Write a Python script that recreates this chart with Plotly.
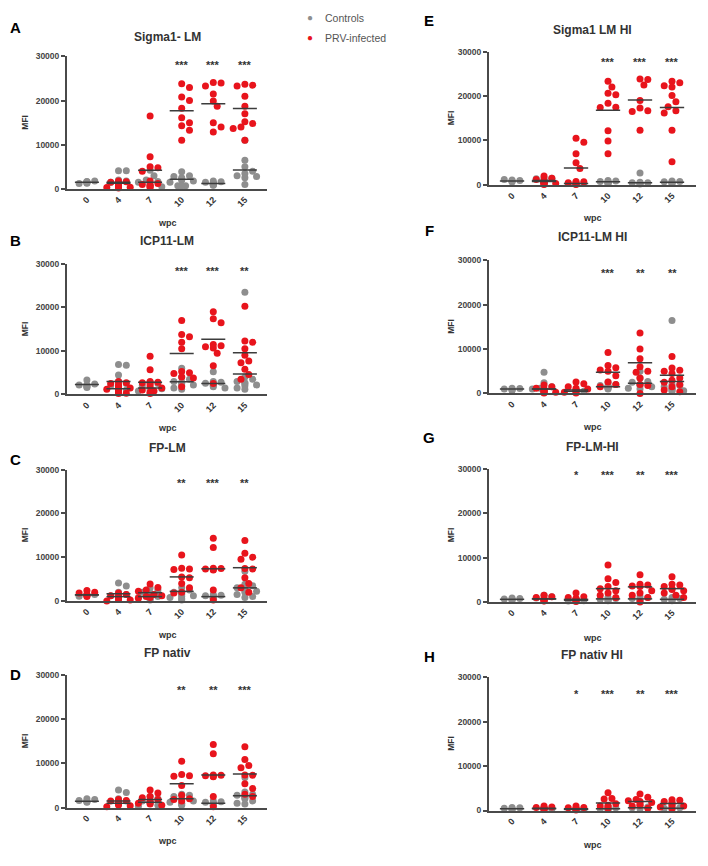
import plotly.graph_objects as go

weeks = ["0", "4", "7", "10", "12", "15"]
groups = ["Controls", "PRV-infected"]

# ---- data: MFI values per week (0,4,7,10,12,15) ----
A_ctrl = [[1500, 1800, 1200, 1600, 1400, 1700, 1300],
          [4100, 4100, 2000, 1800, 1500, 1200, 1000, 800],
          [4200, 3000, 2000, 1700, 1500, 1000, 800, 500],
          [3900, 3000, 2800, 2500, 2200, 2000, 1800, 1500, 700, 700, 700],
          [1800, 1600, 1500, 1400, 1300, 1200, 1100, 1000, 900, 800],
          [11000, 6500, 5000, 4000, 3500, 3000, 2800, 2500, 1000]]
A_inf = [[],
         [1800, 1600, 1500, 1300, 1200, 1000, 800, 600, 500, 400, 300, 200],
         [16500, 7300, 5000, 4800, 4000, 1800, 1200, 1000, 800, 500, 300],
         [23800, 23000, 20800, 20000, 18300, 16100, 15000, 14300, 13300, 11000],
         [24100, 24000, 23300, 21500, 19900, 18700, 15000, 14000, 12900],
         [23700, 23500, 23300, 21000, 18700, 17000, 15200, 14800, 14000, 13700, 11000]]
A_ctrl_mean = [1500, 1500, 1500, 2200, 1200, 4300]
A_inf_mean = [None, 1300, 4200, 17700, 19300, 18200]
A_stars = ["", "", "", "***", "***", "***"]

B_ctrl = [[3300, 2400, 2200, 2200, 2000, 1800, 1600],
          [6900, 6700, 4500, 3000, 2500, 2000, 1500, 1000],
          [2800, 2500, 2000, 1500, 1300, 1000, 800],
          [6000, 4000, 3500, 3000, 2800, 2500, 2200, 2000, 1500, 1200],
          [5200, 3000, 2800, 2600, 2500, 2300, 2200, 2000, 1800, 1500],
          [23500, 4000, 3500, 3000, 2700, 2500, 2200, 2000, 1500, 1200]]
B_inf = [[],
         [3000, 2700, 2500, 2200, 2000, 1800, 1500, 1200, 1000, 800, 600, 500, 300, 200],
         [8800, 5700, 3000, 2800, 2700, 2500, 2000, 1500, 1000, 800, 500, 200],
         [17000, 13800, 13300, 12000, 10500, 5300, 5000, 4800, 4000, 3800, 1800],
         [19000, 17400, 16500, 11500, 11200, 11000, 10700, 9500, 6600, 2500],
         [20300, 12300, 12000, 10500, 9000, 7700, 7300, 5800, 4600, 3500]]
B_ctrl_mean = [2300, 3000, 1500, 2900, 2500, 4700]
B_inf_mean = [None, 1300, 2800, 9400, 12700, 9600]
B_stars = ["", "", "", "***", "***", "**"]

C_ctrl = [[1300, 1500, 1100, 1400],
          [4100, 3400, 2000, 1500, 1200, 1000, 800, 500],
          [3000, 2500, 2000, 1800, 1500, 1000, 800, 500, 200],
          [3000, 2500, 2000, 1800, 1500, 1200, 1000, 800, 500, 200],
          [1500, 1300, 1200, 1100, 1000, 900, 800, 700, 600, 500],
          [6800, 3800, 3500, 3000, 2700, 2500, 2200, 2000, 1500, 1000, 800]]
C_inf = [[2400, 2000, 1800, 1500, 1200, 1000],
         [1800, 1500, 1200, 1000, 800, 600, 400, 200, 0],
         [3900, 3100, 2500, 2200, 1500, 1200, 1000, 800, 600],
         [10500, 7500, 7300, 7200, 5500, 5300, 4000, 3000, 2000, 1800],
         [14300, 12200, 7500, 7400, 7300, 7200, 7100, 2500, 200],
         [13800, 10900, 10000, 9500, 7400, 7300, 5300, 4000, 3000, 2000]]
C_ctrl_mean = [1400, 1650, 1900, 2200, 1000, 3000]
C_inf_mean = [1400, 1000, 1000, 5500, 7350, 7600]
C_stars = ["", "", "", "**", "***", "**"]

D_ctrl = [[2000, 1800, 1600, 1500, 1300, 1200],
          [4000, 3400, 2000, 1500],
          [2500, 2000, 1500, 1000, 500, 300],
          [3000, 2800, 2500, 2000, 1500, 1200, 1000, 800, 500],
          [1500, 1300, 1200, 1000, 900, 800, 600, 500],
          [6800, 3500, 3000, 2800, 2500, 2200, 2000, 1500, 1000, 800]]
D_inf = [[],
         [1800, 1600, 1500, 1300, 1200, 1000, 800, 600, 400, 200],
         [4000, 3300, 2500, 2200, 1800, 1500, 1200, 1000, 800, 500],
         [10500, 7500, 7200, 7100, 5000, 2800, 2000, 1800, 1500],
         [14300, 12200, 7400, 7300, 7200, 7100, 7000, 2500, 200],
         [13800, 10900, 9500, 9000, 7400, 7300, 5400, 4300, 3000, 2500]]
D_ctrl_mean = [1400, 1500, 1200, 2000, 1000, 2700]
D_inf_mean = [None, 1000, 1800, 5400, 7350, 7600]
D_stars = ["", "", "", "**", "**", "***"]

E_ctrl = [[800, 1000, 1200, 900, 700, 1100],
          [1600, 1500, 1400, 1200, 800, 600],
          [500, 400, 300, 200],
          [1000, 900, 800, 700, 600, 500, 400, 300],
          [2700, 600, 500, 500, 400, 300, 200],
          [900, 800, 700, 600, 500, 400, 300]]
E_inf = [[],
         [2000, 1500, 1200, 1000, 800, 600, 500, 400, 300, 200, 100],
         [10500, 9600, 7000, 5000, 3700, 800, 700, 500, 300, 200, 100],
         [23300, 22000, 20600, 20300, 18400, 17500, 17400, 12200, 9900, 7000],
         [23800, 23700, 22500, 19000, 17300, 16700, 16500, 12300],
         [23300, 23000, 22300, 22000, 20100, 18700, 17600, 16700, 16200, 12300, 5200]]
E_ctrl_mean = [900, 800, 300, 700, 500, 600]
E_inf_mean = [None, 1000, 3800, 16800, 19100, 17400]
E_stars = ["", "", "", "***", "***", "***"]

F_ctrl = [[1200, 1100, 1000, 900, 800, 700],
          [4800, 2400, 1500, 1200, 1000, 800, 600],
          [600, 500],
          [2500, 2000, 1800, 1700, 1600, 1500, 1500, 1300, 1200, 1000],
          [5000, 3500, 2700, 2500, 2000, 1800, 1500, 1200, 1000],
          [16400, 2000, 1800, 1500, 1200, 1000, 800, 600, 500]]
F_inf = [[],
         [1900, 1500, 1200, 1000, 800, 600, 400, 300, 200, 100],
         [2600, 2200, 1500, 1200, 1000, 800, 600, 500, 300, 100],
         [9200, 6300, 5800, 5300, 5000, 4000, 2600, 2000, 1500],
         [13600, 10000, 7800, 6000, 5000, 4800, 3500, 2000, 1800, 0],
         [8300, 5700, 5200, 5000, 4500, 3500, 3000, 2500, 2000, 1500, 800, 400]]
F_ctrl_mean = [1000, 1000, 500, 1500, 2300, 2700]
F_inf_mean = [None, 1000, 800, 4800, 6900, 4100]
F_stars = ["", "", "", "***", "**", "**"]

G_ctrl = [[900, 800, 700, 600, 500, 400],
          [1500, 1200, 900, 500],
          [500, 300, 200],
          [1000, 800, 600, 500, 400, 300],
          [1200, 1000, 800, 600, 500, 300],
          [1000, 800, 600, 500, 400, 300]]
G_inf = [[],
         [1500, 1200, 1000, 800, 600, 400, 300, 200],
         [2000, 1200, 1000, 800, 700, 500, 400, 200, 100],
         [8300, 5200, 4400, 3500, 3000, 2500, 2000, 1500, 1000],
         [6100, 4000, 3800, 3600, 3500, 2500, 2000, 1500, 1000, 0],
         [5700, 4000, 3800, 3500, 3000, 2800, 2500, 2000, 1500, 1000]]
G_ctrl_mean = [600, 700, 400, 700, 700, 600]
G_inf_mean = [None, 700, 600, 3000, 3400, 3000]
G_stars = ["", "", "*", "***", "**", "***"]

H_ctrl = [[700, 600, 500, 400, 300, 200],
          [500, 300],
          [300, 200],
          [800, 600, 400, 300, 200],
          [1000, 800, 600, 400],
          [800, 600, 500, 400, 300]]
H_inf = [[],
         [1000, 800, 700, 600, 500, 400, 300, 200],
         [1000, 700, 600, 500, 400, 300, 200, 100],
         [4000, 2700, 2600, 1500, 1200, 1000, 800, 500],
         [3700, 3000, 2500, 2200, 2000, 1800, 1500, 1200, 1000, 500],
         [2400, 2300, 2000, 1800, 1500, 1200, 1000, 800, 500]]
H_ctrl_mean = [400, 400, 250, 400, 600, 500]
H_inf_mean = [None, 500, 400, 1700, 2000, 1600]
H_stars = ["", "", "*", "***", "**", "***"]

# ---- layout: boxes are page pixels; the page body adds an 8px margin all round ----
OFF = 8
W, H = 708 - 2 * OFF, 866 - 2 * OFF
GREY = "#8e8e8e"
RED = "#e8141c"
INK = "#333333"

cols = {0: dict(x0=67, x1=267, rng=[-0.63, 5.7], tx=167, letter_x=15, mfi_x=25),
        1: dict(x0=489, x1=696, rng=[-0.72, 5.75], tx=592, letter_x=429, mfi_x=451)}

panels = [
    dict(L="A", title="Sigma1- LM", col=0, top=52, bot=186, ty=32, ly=23, wy=220, sy=29000,
         ctrl=A_ctrl, inf=A_inf, cm=A_ctrl_mean, im=A_inf_mean, stars=A_stars),
    dict(L="B", title="ICP11-LM", col=0, top=262, bot=394, ty=239, ly=238, wy=428, sy=29400,
         ctrl=B_ctrl, inf=B_inf, cm=B_ctrl_mean, im=B_inf_mean, stars=B_stars),
    dict(L="C", title="FP-LM", col=0, top=470, bot=603, ty=448, ly=460, wy=637, sy=27900,
         ctrl=C_ctrl, inf=C_inf, cm=C_ctrl_mean, im=C_inf_mean, stars=C_stars),
    dict(L="D", title="FP nativ", col=0, top=678, bot=812, ty=656, ly=677, wy=846, sy=27600,
         ctrl=D_ctrl, inf=D_inf, cm=D_ctrl_mean, im=D_inf_mean, stars=D_stars),
    dict(L="E", title="Sigma1 LM HI", col=1, top=47, bot=182, ty=25, ly=16, wy=215, sy=28500,
         ctrl=E_ctrl, inf=E_inf, cm=E_ctrl_mean, im=E_inf_mean, stars=E_stars),
    dict(L="F", title="ICP11-LM HI", col=1, top=258, bot=393, ty=235, ly=228, wy=427, sy=28000,
         ctrl=F_ctrl, inf=F_inf, cm=F_ctrl_mean, im=F_inf_mean, stars=F_stars),
    dict(L="G", title="FP-LM-HI", col=1, top=469, bot=604, ty=447, ly=438, wy=640, sy=29500,
         ctrl=G_ctrl, inf=G_inf, cm=G_ctrl_mean, im=G_inf_mean, stars=G_stars),
    dict(L="H", title="FP nativ HI", col=1, top=680, bot=815, ty=658, ly=659, wy=850, sy=27000,
         ctrl=H_ctrl, inf=H_inf, cm=H_ctrl_mean, im=H_inf_mean, stars=H_stars),
]


def swarm(vals, ppx, ppy, diam=6.5):
    # simple beeswarm: push points sideways until they don't overlap (in px)
    placed = []
    offs = []
    step = diam * 0.6
    for v in vals:
        yp = v * ppy
        k = 0
        while True:
            cand = 0 if k == 0 else ((k + 1) // 2) * step * (1 if k % 2 else -1)
            if abs(cand) > 14:
                cand = 0
                break
            if all((cand - qx) ** 2 + (yp - qy) ** 2 >= diam ** 2 for qx, qy in placed):
                break
            k += 1
        placed.append((cand, yp))
        offs.append(cand / ppx)
    return offs


def px(x):
    return (x - OFF) / W


def py(y):
    return 1 - (y - OFF) / H


fig = go.Figure()
layout = dict(width=W, height=H, margin=dict(l=0, r=0, t=0, b=0),
              paper_bgcolor="white", plot_bgcolor="white",
              font=dict(family="Liberation Sans, Arial, sans-serif", color=INK),
              showlegend=False)
annotations = []

# legend drawn by hand so it doesn't push the margins
for k, (name, color) in enumerate(zip(groups, [GREY, RED])):
    yy = py(13 + 20 * k)
    annotations.append(dict(x=px(310), y=yy, xref="paper", yref="paper", text="●",
                            xanchor="center", yanchor="middle", showarrow=False,
                            font=dict(size=10, color=color)))
    annotations.append(dict(x=px(323), y=yy, xref="paper", yref="paper", text=name,
                            xanchor="left", yanchor="middle", showarrow=False,
                            font=dict(size=10.5, color="#555555")))

for i, p in enumerate(panels):
    n = "" if i == 0 else str(i + 1)
    xa, ya = "x" + n, "y" + n
    c = cols[p["col"]]
    ppx = (c["x1"] - c["x0"]) / (c["rng"][1] - c["rng"][0])
    ppy = (p["bot"] - p["top"]) / 30000

    layout["xaxis" + n] = dict(domain=[px(c["x0"]), px(c["x1"])], range=c["rng"], anchor=ya,
                               tickvals=list(range(6)), ticktext=["<b>%s</b>" % w for w in weeks],
                               tickangle=-45, showline=True, linecolor="#4a4a4a", linewidth=2,
                               ticks="", showgrid=False, zeroline=False,
                               tickfont=dict(size=9, color=INK, family="Liberation Sans, Arial"))
    layout["yaxis" + n] = dict(domain=[py(p["bot"]), py(p["top"])], range=[0, 30000],
                               anchor=xa, tickvals=[0, 10000, 20000, 30000],
                               ticktext=["<b>0</b>", "<b>10000</b>", "<b>20000</b>", "<b>30000</b>"],
                               showline=True, linecolor="#4a4a4a", linewidth=2,
                               ticks="outside", ticklen=4, tickwidth=1.5, tickcolor="#4a4a4a",
                               showgrid=False, zeroline=False,
                               tickfont=dict(size=8.5, color="#444444", family="Liberation Sans, Arial"))

    for vals_by_week, color, name in [(p["ctrl"], GREY, groups[0]),
                                      (p["inf"], RED, groups[1])]:
        xs, ys = [], []
        for w, vals in enumerate(vals_by_week):
            offs = swarm(vals, ppx, ppy)
            xs += [w + o for o in offs]
            ys += list(vals)
        fig.add_trace(go.Scatter(x=xs, y=ys, mode="markers", xaxis=xa, yaxis=ya, name=name,
                                 cliponaxis=False,
                                 marker=dict(size=7, color=color, line=dict(width=0))))

    # mean lines
    mx, my = [], []
    for means in (p["cm"], p["im"]):
        for w, m in enumerate(means):
            if m is None:
                continue
            mx += [w - 0.38, w + 0.38, None]
            my += [m, m, None]
    fig.add_trace(go.Scatter(x=mx, y=my, mode="lines", xaxis=xa, yaxis=ya,
                             hoverinfo="skip", cliponaxis=False,
                             line=dict(color="#3c3c3c", width=1.5)))

    # significance stars
    for w, s in enumerate(p["stars"]):
        if s:
            annotations.append(dict(x=w, y=p["sy"] - 900, xref=xa, yref=ya, text="<b>" + s + "</b>",
                                    showarrow=False, font=dict(size=11, color=INK)))

    # titles, letters, axis labels
    annotations.append(dict(x=px(c["tx"]), y=py(p["ty"]), xref="paper", yref="paper",
                            xanchor="center", yanchor="middle",
                            text="<b>" + p["title"] + "</b>", showarrow=False,
                            font=dict(size=12, color=INK)))
    annotations.append(dict(x=px(c["letter_x"]), y=py(p["ly"]), xref="paper", yref="paper",
                            xanchor="center", yanchor="middle",
                            text="<b>" + p["L"] + "</b>", showarrow=False,
                            font=dict(size=15, color="black")))
    annotations.append(dict(x=px(c["tx"]), y=py(p["wy"]), xref="paper", yref="paper",
                            xanchor="center", yanchor="middle",
                            text="<b>wpc</b>", showarrow=False, font=dict(size=9, color=INK)))
    annotations.append(dict(x=px(c["mfi_x"]), y=py((p["top"] + p["bot"]) / 2),
                            xref="paper", yref="paper", xanchor="center", yanchor="middle",
                            text="<b>MFI</b>", textangle=-90,
                            showarrow=False, font=dict(size=8.5, color=INK)))

layout["annotations"] = annotations
fig.update_layout(**layout)
fig.write_html("out.html")
